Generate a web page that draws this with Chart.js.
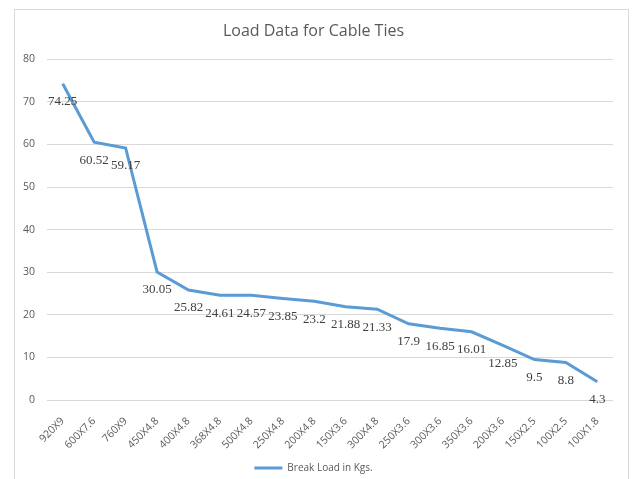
<!DOCTYPE html>
<html>
<head>
<meta charset="utf-8">
<script src="https://cdn.jsdelivr.net/npm/chart.js@4/dist/chart.umd.min.js"></script>
<style>
  html, body { margin: 0; padding: 0; background: #fff; overflow: hidden; }
  #frame { position: absolute; left: 14px; top: 9px; width: 613px; height: 480px; border: 1px solid #d9d9d9; }
  #chart { position: absolute; left: 0; top: 0; }
</style>
</head>
<body>
<div id="frame"></div>
<canvas id="chart" width="633" height="479"></canvas>
<script>
// Cable tie sizes (length X width) and measured break load
const sizes = ['920X9', '600X7.6', '760X9', '450X4.8', '400X4.8', '368X4.8', '500X4.8', '250X4.8', '200X4.8',
    '150X3.6', '300X4.8', '250X3.6', '300X3.6', '350X3.6', '200X3.6', '150X2.5', '100X2.5', '100X1.8'];
const breakLoad = [74.25, 60.52, 59.17, 30.05, 25.82, 24.61, 24.57, 23.85, 23.2,
    21.88, 21.33, 17.9, 16.85, 16.01, 12.85, 9.5, 8.8, 4.3];
const yTicks = [0, 10, 20, 30, 40, 50, 60, 70, 80];

const textColor = '#595959';
const gridColor = '#d9d9d9';
const lineColor = '#5b9bd5';

// draws the value under each point, like Excel's "below" data labels
const valueLabels = {
    id: 'valueLabels',
    afterDatasetsDraw(chart) {
        const ctx = chart.ctx;
        const meta = chart.getDatasetMeta(0);
        ctx.save();
        ctx.font = '13px "Liberation Serif", "Times New Roman", serif';
        ctx.fillStyle = '#404040';
        ctx.textAlign = 'center';
        ctx.textBaseline = 'middle';
        meta.data.forEach((pt, i) => {
            ctx.fillText(String(breakLoad[i]), pt.x, pt.y + 18);
        });
        ctx.restore();
    }
};

new Chart(document.getElementById('chart').getContext('2d'), {
    type: 'line',
    data: {
        labels: sizes,
        datasets: [{
            label: 'Break Load in Kgs.',
            data: breakLoad,
            borderColor: lineColor,
            backgroundColor: lineColor,
            borderWidth: 3,
            tension: 0,
            pointRadius: 0,
            pointStyle: 'line'
        }]
    },
    options: {
        responsive: false,
        devicePixelRatio: 1,
        animation: false,
        layout: { padding: { left: 14, right: 20, top: 0, bottom: -4 } },
        plugins: {
            title: {
                display: true,
                text: 'Load Data for Cable Ties',
                color: textColor,
                font: { family: '"Open Sans"', size: 16, weight: 'normal' },
                padding: { top: 22, bottom: 18 }
            },
            legend: {
                position: 'bottom',
                labels: {
                    usePointStyle: true,
                    pointStyle: 'line',
                    pointStyleWidth: 28,
                    color: textColor,
                    font: { family: '"Open Sans"', size: 10 },
                    padding: 5
                }
            },
            tooltip: { enabled: false }
        },
        scales: {
            x: {
                offset: true,
                grid: { display: false },
                border: { display: false },
                ticks: {
                    color: textColor,
                    font: { family: '"Open Sans"', size: 10.5 },
                    maxRotation: 45,
                    minRotation: 45,
                    padding: 7
                },
                afterFit(scale) { scale.height = 58; }
            },
            y: {
                min: 0,
                max: 80,
                afterBuildTicks(scale) { scale.ticks = yTicks.map(v => ({ value: v })); },
                grid: { color: gridColor, drawTicks: false, lineWidth: 1 },
                border: { display: false },
                ticks: {
                    color: textColor,
                    font: { family: '"Open Sans"', size: 10.5 },
                    padding: 12
                },
                afterFit(scale) { scale.width = 33; }
            }
        }
    },
    plugins: [valueLabels]
});
</script>
</body>
</html>
